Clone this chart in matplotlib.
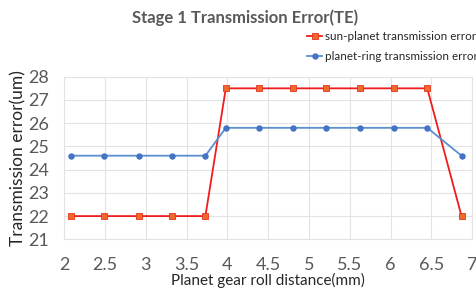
import matplotlib.pyplot as plt
import numpy as np

# data
x = [2.08, 2.49, 2.91, 3.32, 3.73, 3.98, 4.39, 4.80, 5.21, 5.62, 6.04, 6.45, 6.87]
sun_planet = [22, 22, 22, 22, 22, 27.5, 27.5, 27.5, 27.5, 27.5, 27.5, 27.5, 22]
planet_ring = [24.6, 24.6, 24.6, 24.6, 24.6, 25.8, 25.8, 25.8, 25.8, 25.8, 25.8, 25.8, 24.6]
xticks = [2, 2.5, 3, 3.5, 4, 4.5, 5, 5.5, 6, 6.5, 7]
yticks = [21, 22, 23, 24, 25, 26, 27, 28]

plt.rcParams['font.family'] = ['Lato', 'DejaVu Sans']

fig = plt.figure(figsize=(4.77, 2.94), dpi=100)
ax = fig.add_axes([0.1348, 0.186, 0.855, 0.553])

ax.plot(x, sun_planet, color='#f01c1c', lw=1.3, marker='s', ms=4,
        mfc='#ed6a2c', mec='#e8321c', mew=0.6, label='sun-planet transmission error')
ax.plot(x, planet_ring, color='#5b8fd0', lw=1.3, marker='o', ms=3.6,
        mfc='#4472c4', mec='#4472c4', label='planet-ring transmission error')

ax.set_xlim(2, 7)
ax.set_ylim(21, 28)
ax.set_xticks(xticks)
ax.set_xticklabels([f'{t:g}' for t in xticks])
ax.set_yticks(yticks)
ax.grid(True, color='#e3e3e3', lw=0.8)
ax.set_axisbelow(True)
for s in ax.spines.values():
    s.set_color('#e3e3e3')
    s.set_linewidth(0.8)
ax.tick_params(length=0, labelsize=13, labelcolor='#595959')
ax.tick_params(axis='x', pad=13)
ax.tick_params(axis='y', pad=11)

ax.set_xlabel('Planet gear roll distance(mm)', fontsize=11, color='#262626', labelpad=0)
ax.set_ylabel('Transmission error(um)', fontsize=12.5, color='#262626', labelpad=1)

fig.text(0.513, 0.94, 'Stage 1 Transmission Error(TE)', ha='center', va='center',
         fontsize=12, fontweight='bold', color='#595959')

fig.legend(loc='upper left', bbox_to_anchor=(0.643, 0.895), frameon=False,
           fontsize=8.4, handlelength=1.35, handletextpad=0.2, labelspacing=0.75,
           borderaxespad=0, borderpad=0, labelcolor='#262626')

fig.savefig('out.png', dpi=100)
